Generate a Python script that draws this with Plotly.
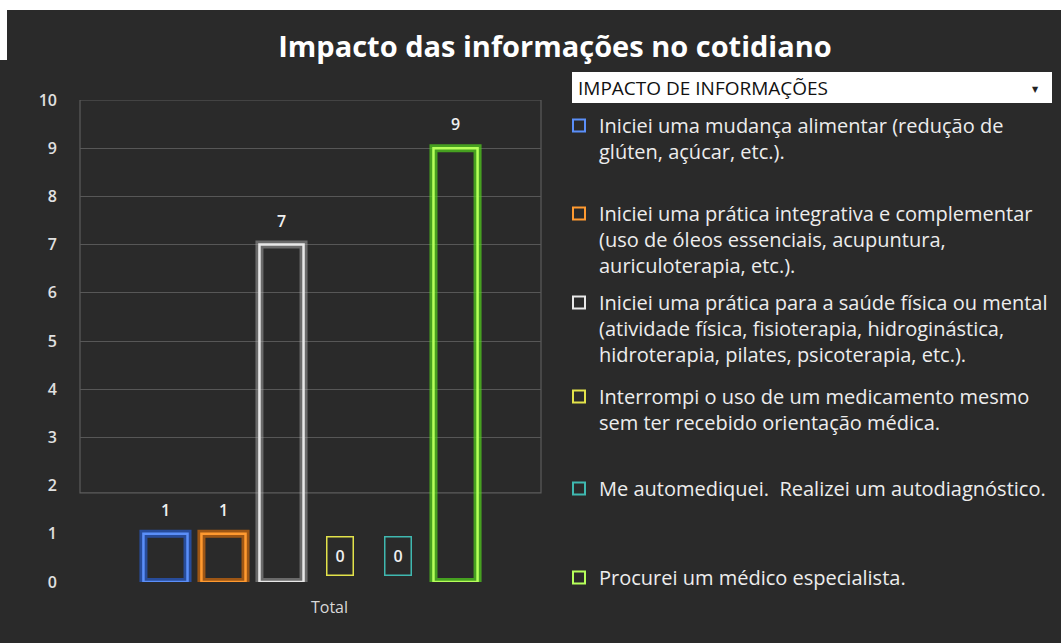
import plotly.graph_objects as go

# ---------------- data ----------------
category = ["Total"]
series_names = [
    "Iniciei uma mudança alimentar (redução de<br>glúten, açúcar, etc.).",
    "Iniciei uma prática integrativa e complementar<br>(uso de óleos essenciais, acupuntura,<br>auriculoterapia, etc.).",
    "Iniciei uma prática para a saúde física ou mental<br>(atividade física, fisioterapia, hidroginástica,<br>hidroterapia, pilates, psicoterapia, etc.).",
    "Interrompi o uso de um medicamento mesmo<br>sem ter recebido orientação médica.",
    "Me automediquei.  Realizei um autodiagnóstico.",
    "Procurei um médico especialista.",
]
series_values = [1, 1, 7, 0, 0, 9]
y_ticks = list(range(0, 11))
title_text = "Impacto das informações no cotidiano"
filter_text = "IMPACTO DE INFORMAÇÕES"

# ---------------- style ----------------
BG = "#2a2a2a"
line_colors = ["#5b8ff9", "#ff9a30", "#e8e8e8", "#e2e24a", "#3fb8b0", "#b6ff5a"]
glow_colors = ["rgba(40,100,230,0.6)", "rgba(220,110,10,0.65)", "rgba(170,170,170,0.5)",
               "rgba(200,200,40,0.3)", "rgba(40,160,160,0.3)", "rgba(80,200,30,0.75)"]

W_PX, H_PX = 1061, 643
L, R, T, B = 80, 520, 100, 61
plot_w = W_PX - L - R
plot_h = H_PX - T - B
BARGAP = 0.245
BARGROUPGAP = 0.24
n = len(series_values)
slot_px = (1 - BARGAP) * plot_w / n


def px_x(px):
    return (px - L) / plot_w


def px_y(py):
    return (H_PX - B - py) / plot_h


fig = go.Figure()

legend_tops_px = [106, 194, 283, 377, 469, 558]

for i, (name, val) in enumerate(zip(series_names, series_values)):
    visible_line = 1 if val != 0 else 0
    lg = "legend" if i == 0 else f"legend{i+1}"
    fig.add_trace(go.Bar(
        x=category, y=[val], offsetgroup=str(i), showlegend=False,
        marker=dict(color="rgba(0,0,0,0)",
                    line=dict(color=glow_colors[i], width=[8 * visible_line])),
        hoverinfo="skip",
    ))
    fig.add_trace(go.Bar(
        x=category, y=[val], offsetgroup=str(i), showlegend=False, name=name,
        marker=dict(color="rgba(0,0,0,0)",
                    line=dict(color=line_colors[i], width=[2.5 * visible_line])),
    ))
    fig.add_trace(go.Bar(
        x=category, y=[None], offsetgroup=str(i), name=name, legend=lg,
        marker=dict(color="rgba(0,0,0,0)", line=dict(color=line_colors[i], width=2)),
        hoverinfo="skip",
    ))

annotations = []
for i, val in enumerate(series_values):
    xs = (i - (n - 1) / 2) * slot_px
    if val == 0:
        annotations.append(dict(
            x=category[0], y=val, xref="x", yref="y", text=str(val), showarrow=False,
            xshift=xs, yshift=6, yanchor="bottom", width=17, height=29, borderpad=4,
            bordercolor=line_colors[i], borderwidth=1.5,
            font=dict(family="Open Sans", size=16, color="#f0f0f0", weight=600),
        ))
    else:
        annotations.append(dict(
            x=category[0], y=val, xref="x", yref="y", text=str(val), showarrow=False,
            xshift=xs, yshift=11, yanchor="bottom",
            font=dict(family="Open Sans", size=16, color="#f0f0f0", weight=600),
        ))

annotations.append(dict(
    x=px_x(576), y=px_y(88), xref="paper", yref="paper", text=filter_text,
    showarrow=False, xanchor="left", yanchor="middle",
    font=dict(family="Open Sans", size=19, color="#111111"),
))
annotations.append(dict(
    x=px_x(1035), y=px_y(89), xref="paper", yref="paper", text="▼",
    showarrow=False, xanchor="center", yanchor="middle",
    font=dict(family="DejaVu Sans", size=8, color="#222222"),
))

shapes = [
    dict(type="rect", xref="paper", yref="paper", x0=px_x(0), x1=px_x(W_PX),
         y0=px_y(10), y1=px_y(0), fillcolor="white", line=dict(width=0), layer="above"),
    dict(type="rect", xref="paper", yref="paper", x0=px_x(0), x1=px_x(7),
         y0=px_y(60), y1=px_y(10), fillcolor="white", line=dict(width=0), layer="above"),
    dict(type="rect", xref="paper", yref="paper", x0=px_x(572), x1=px_x(1052),
         y0=px_y(103), y1=px_y(72), fillcolor="white", line=dict(width=0), layer="below"),
    dict(type="rect", xref="paper", yref="y", x0=0, x1=1, y0=1.85, y1=10,
         line=dict(color="#5c5c5c", width=1.2), layer="below"),
]

layout_legends = {}
for i, top in enumerate(legend_tops_px):
    key = "legend" if i == 0 else f"legend{i+1}"
    layout_legends[key] = dict(
        xref="container", yref="container",
        x=559 / W_PX, y=1 - top / H_PX, xanchor="left", yanchor="top",
        bgcolor="rgba(0,0,0,0)", valign="top", itemclick=False,
        font=dict(family="Open Sans", size=20, color="#ededed"),
    )

fig.update_layout(
    width=W_PX, height=H_PX,
    paper_bgcolor=BG, plot_bgcolor=BG,
    margin=dict(l=L, r=R, t=T, b=B, autoexpand=False),
    barmode="group", bargap=BARGAP, bargroupgap=BARGROUPGAP,
    title=dict(text=f"<b>{title_text}</b>", x=555 / W_PX, xref="container", xanchor="center",
               y=1 - 47 / H_PX, yref="container", yanchor="middle",
               font=dict(family="Open Sans", size=29, color="#ffffff")),
    xaxis=dict(showgrid=False, zeroline=False, showline=False, ticks="",
               tickfont=dict(family="Open Sans", size=16, color="#d9d9d9"),
               ticklabelstandoff=14, ticklabelshift=19),
    yaxis=dict(range=[0, 10], tickvals=y_ticks, showgrid=False, zeroline=False,
               showline=False, ticks="",
               tickfont=dict(family="Open Sans", size=16, color="#e0e0e0", weight=600),
               ticklabelstandoff=22),
    yaxis2=dict(range=[0, 10], overlaying="y", tickvals=y_ticks[3:], showgrid=True,
                gridcolor="#575757", gridwidth=1, showticklabels=False, zeroline=False,
                ticks="", side="left"),
    annotations=annotations,
    shapes=shapes,
    **layout_legends,
)
fig.add_trace(go.Scatter(x=category, y=[0], yaxis="y2", mode="markers",
                         marker=dict(opacity=0), showlegend=False, hoverinfo="skip"))

fig.write_html("out.html", config={"displayModeBar": False},
               post_script="document.body.style.margin='0';")
